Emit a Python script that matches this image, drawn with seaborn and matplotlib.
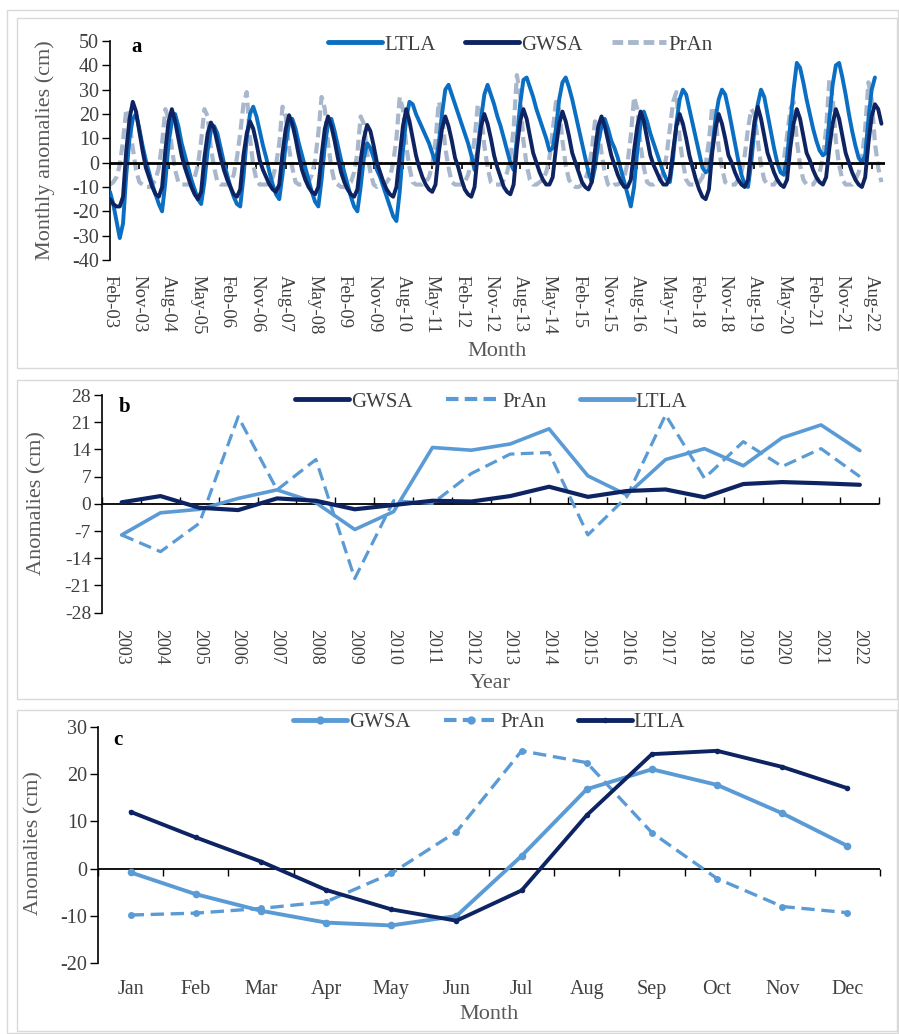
import numpy as np
import pandas as pd
import matplotlib
matplotlib.use("Agg")
import matplotlib.pyplot as plt
import seaborn as sns
from matplotlib.lines import Line2D
from matplotlib.patches import Rectangle

# ---------------- Panel a : monthly anomalies, Feb-2003 .. Nov-2022 ----------------
gwsa_m = [
    -15, -17, -18, -18, -14, 5, 18, 25, 21, 13, 5,              # 2003 Feb-Dec
    -2, -6, -10, -13, -14, -10, 5, 17, 22, 17, 10, 3,            # 2004
    -2, -6, -10, -13, -15, -12, 2, 12, 16.5, 14, 8, 2,           # 2005
    -3, -7, -10, -13, -14, -11, 3, 12, 17, 14, 8, 1,             # 2006
    -3, -6, -9, -11, -12, -9, 4, 14, 19.5, 16, 10, 3,            # 2007
    -3, -7, -10, -12, -13, -10, 3, 14, 19, 15, 9, 2,             # 2008
    -4, -8, -11, -13, -14, -11, 1, 10, 15.5, 13, 7, 0,           # 2009
    -4, -8, -11, -13, -14, -10, 3, 15, 22, 17, 10, 3,            # 2010
    -2, -6, -9, -11, -12, -9, 4, 14, 19, 15, 9, 2,               # 2011
    -2, -7, -11, -13, -14, -10, 4, 15, 20, 16, 10, 3,            # 2012
    -2, -6, -10, -12, -13, -9, 6, 17, 22, 18, 11, 4,             # 2013
    0, -4, -7, -9, -9, -6, 6, 16, 21, 17, 11, 4,                 # 2014
    0, -4, -8, -10, -11, -8, 5, 15, 19, 15, 9, 3,                # 2015
    -1, -5, -8, -10, -10, -7, 5, 15, 21, 17, 10, 3,              # 2016
    -1, -4, -7, -9, -9, -6, 5, 15, 20, 16, 10, 3,                # 2017
    -2, -7, -11, -14, -15, -11, 4, 14, 20, 16, 10, 3,            # 2018
    0, -4, -7, -9, -10, -7, 6, 17, 23, 18, 11, 4,                # 2019
    0, -4, -7, -9, -10, -7, 6, 16, 22, 18, 11, 4,                # 2020
    1, -3, -6, -8, -9, -6, 6, 16, 22, 18, 11, 4,                 # 2021
    0, -4, -7, -9, -10, -6, 8, 19, 24, 22, 16,                   # 2022 Jan-Nov
]
ltla_m = [
    -12, -17, -24, -31, -25, -5, 10, 18, 20, 14, 7,              # 2003
    1, -4, -9, -13, -17, -20, -8, 8, 17, 20, 15, 8,              # 2004
    3, -2, -7, -11, -15, -17, -8, 5, 13, 15, 12, 6,              # 2005
    0, -5, -10, -14, -17, -18, -6, 10, 20, 23, 19, 13,           # 2006
    7, 2, -4, -9, -13, -15, -5, 8, 16, 18, 14, 8,                # 2007
    3, -2, -7, -12, -16, -18, -7, 7, 16, 18, 13, 7,              # 2008
    1, -4, -9, -14, -18, -20, -10, 2, 8, 6, 2, -3,               # 2009
    -6, -10, -14, -18, -22, -24, -12, 5, 18, 25, 24, 20,         # 2010
    17, 14, 11, 8, 4, 0, 8, 20, 30, 32, 28, 24,                  # 2011
    20, 16, 12, 8, 3, -3, 6, 18, 28, 32, 28, 24,                 # 2012
    19, 15, 10, 5, 0, -3, 10, 24, 34, 35, 31, 27,                # 2013
    22, 18, 14, 10, 5, 6, 14, 26, 33, 35, 31, 26,                # 2014
    20, 14, 8, 2, -4, -8, -2, 8, 15, 18, 14, 9,                  # 2015
    6, 2, -3, -8, -13, -18, -10, 5, 16, 21, 17, 12,              # 2016
    8, 4, 0, -4, -7, -8, 2, 16, 26, 30, 28, 22,                  # 2017
    16, 10, 4, -2, -4, -3, 6, 18, 26, 30, 28, 22,                # 2018
    15, 8, 1, -5, -9, -10, 0, 14, 24, 30, 27, 20,                # 2019
    13, 6, 0, -4, -5, 2, 16, 30, 41, 39, 33, 26,                 # 2020
    20, 14, 9, 5, 3, 4, 18, 32, 40, 41, 35, 28,                  # 2021
    20, 13, 7, 2, 0, 3, 18, 30, 35, np.nan, np.nan,              # 2022
]
pran_m = [
    -9, -8, -6, -1, 9, 22, 17, 6, -3, -8, -9,                    # 2003
    -10, -10, -9, -7, -2, 8, 22, 18, 6, -3, -8, -9,              # 2004
    -9, -9, -8, -6, -1, 9, 22, 19, 6, -2, -8, -9,                # 2005
    -9, -9, -8, -5, 2, 12, 24, 29, 10, -1, -7, -9,               # 2006
    -9, -9, -8, -6, -1, 8, 23, 19, 6, -2, -8, -9,                # 2007
    -9, -9, -8, -5, 1, 12, 27, 22, 8, -2, -8, -9,                # 2008
    -10, -10, -9, -8, -4, 4, 19, 16, 4, -4, -9, -10,             # 2009
    -9, -9, -8, -6, 0, 10, 27, 22, 7, -2, -8, -9,                # 2010
    -9, -9, -8, -6, -1, 9, 25, 20, 6, -2, -8, -9,                # 2011
    -9, -9, -8, -5, 0, 10, 24, 20, 7, -2, -8, -9,                # 2012
    -9, -9, -7, -4, 2, 14, 36, 28, 9, -1, -7, -9,                # 2013
    -9, -8, -7, -4, 2, 13, 25, 22, 9, -1, -7, -9,                # 2014
    -10, -10, -9, -7, -3, 5, 17, 15, 4, -4, -9, -10,             # 2015
    -9, -9, -8, -6, 0, 11, 27, 22, 7, -2, -8, -9,                # 2016
    -9, -8, -7, -4, 3, 14, 25, 29, 10, 0, -7, -9,                # 2017
    -9, -9, -8, -6, -1, 9, 23, 19, 6, -2, -8, -9,                # 2018
    -9, -9, -7, -4, 3, 14, 22, 20, 9, -1, -7, -9,                # 2019
    -9, -9, -7, -5, 1, 11, 22, 25, 9, -1, -7, -9,                # 2020
    -9, -9, -7, -4, 2, 14, 34, 27, 9, -1, -7, -9,                # 2021
    -9, -9, -7, -4, 2, 14, 33, 26, 8, -2, -8,                    # 2022
]
a_tick_labels = ["Feb-03", "Nov-03", "Aug-04", "May-05", "Feb-06", "Nov-06", "Aug-07",
                 "May-08", "Feb-09", "Nov-09", "Aug-10", "May-11", "Feb-12", "Nov-12",
                 "Aug-13", "May-14", "Feb-15", "Nov-15", "Aug-16", "May-17", "Feb-18",
                 "Nov-18", "Aug-19", "May-20", "Feb-21", "Nov-21", "Aug-22"]
a_tick_step = 9

# ---------------- Panel b : annual anomalies ----------------
years = [str(y) for y in range(2003, 2023)]
gwsa_y = [0.4, 2.0, -1.0, -1.6, 1.4, 0.8, -1.4, -0.3, 0.8, 0.6,
          2.0, 4.4, 1.8, 3.3, 3.7, 1.7, 5.1, 5.6, 5.3, 4.9]
pran_y = [-8.0, -12.3, -5.0, 22.4, 3.6, 11.4, -19.2, 0.8, 0.1, 7.8,
          12.8, 13.2, -8.0, 1.8, 22.9, 6.6, 16.0, 9.6, 14.2, 7.0]
ltla_y = [-8.0, -2.3, -1.4, 1.4, 3.6, 0.3, -6.6, -2.0, 14.5, 13.8,
          15.4, 19.3, 7.2, 2.3, 11.4, 14.2, 9.8, 17.0, 20.3, 13.7]

# ---------------- Panel c : monthly climatology ----------------
months = ["Jan", "Feb", "Mar", "Apr", "May", "Jun", "Jul", "Aug", "Sep", "Oct", "Nov", "Dec"]
gwsa_c = [-0.8, -5.4, -8.9, -11.4, -12.0, -10.0, 2.7, 16.8, 21.0, 17.7, 11.7, 4.8]
pran_c = [-9.8, -9.4, -8.4, -7.0, -1.0, 7.8, 24.9, 22.4, 7.6, -2.1, -8.0, -9.3]
ltla_c = [12.0, 6.6, 1.5, -4.5, -8.6, -11.0, -4.6, 11.3, 24.2, 24.9, 21.5, 17.0]

# ---------------- style ----------------
sns.set_style("white")
plt.rcParams["font.family"] = ["Liberation Serif", "DejaVu Serif"]
plt.rcParams["axes.unicode_minus"] = False

NAVY = "#0E2462"
BLUE_A = "#0A6EC2"
GREY_A = "#A9B7CC"
BLUE_L = "#5B9BD5"
TXT = "#404040"
LAB = "#595959"
BOX = "#D9D9D9"

W, H = 899, 1034
fig = plt.figure(figsize=(W / 100, H / 100), dpi=100)


def fx(px):
    return px / W


def fy(py):
    return 1 - py / H


# frames
fig.patches.append(Rectangle((fx(7), fy(1033)), fx(891), 1023 / H, transform=fig.transFigure,
                             fill=False, ec=BOX, lw=1.0))
for top, bot in [(18, 368), (380, 699), (710, 1031)]:
    fig.patches.append(Rectangle((fx(17), fy(bot)), fx(880), (bot - top) / H, transform=fig.transFigure,
                                 fill=False, ec=BOX, lw=1.0))


def style_axes(ax, tsize):
    for s in ["top", "right", "bottom"]:
        ax.spines[s].set_visible(False)
    ax.spines["left"].set_color("#000000")
    ax.spines["left"].set_linewidth(1.2)
    ax.tick_params(axis="y", direction="out", length=6, width=1.0, color="#000000",
                   labelsize=tsize, labelcolor=TXT, pad=2, left=True)
    ax.tick_params(axis="x", length=0, labelcolor=TXT)
    ax.grid(False)


# ======================= Panel a =======================
axa = fig.add_axes([fx(110), fy(260), fx(774.7), 219 / H])
idx = np.arange(len(gwsa_m))
dfa = pd.DataFrame({"idx": idx, "LTLA": ltla_m, "GWSA": gwsa_m, "PrAn": pran_m})
sns.lineplot(data=dfa, x="idx", y="PrAn", ax=axa, color=GREY_A, lw=3.0,
             linestyle=(0, (2.6, 1.3)), zorder=2)
sns.lineplot(data=dfa, x="idx", y="LTLA", ax=axa, color=BLUE_A, lw=2.8, zorder=3)
sns.lineplot(data=dfa, x="idx", y="GWSA", ax=axa, color=NAVY, lw=2.8, zorder=4)
axa.set_xlim(0, len(gwsa_m))
axa.set_ylim(-40, 50)
axa.set_yticks(np.arange(-40, 51, 10))
axa.set_xticks(np.arange(0, len(gwsa_m), a_tick_step)[:len(a_tick_labels)])
axa.set_xticklabels(a_tick_labels, rotation=270, ha="center", va="top")
style_axes(axa, 14.5)
axa.tick_params(axis="x", pad=11, labelsize=13.5)
axa.axhline(0, color="#000000", lw=2.0, zorder=3.5)
seca = axa.secondary_xaxis(40 / 90)
seca.set_xticks(np.arange(0, len(gwsa_m), a_tick_step))
seca.tick_params(axis="x", direction="out", length=4, width=1.2, color="#000000", labelbottom=False,
                 labeltop=False)
for s in seca.spines.values():
    s.set_visible(False)
axa.set_xlabel("Month", fontsize=16, color=LAB, va="center")
axa.xaxis.set_label_coords(0.5, -0.418)
axa.set_ylabel("Monthly anomalies (cm)", fontsize=16, color=LAB, va="center")
axa.yaxis.set_label_coords(-0.084, 0.5)
axa.text(0.034, 0.972, "a", transform=axa.transAxes, fontsize=15, fontweight="bold",
         color="#000000", ha="center", va="center")
ha = [Line2D([], [], color=BLUE_A, lw=3.5),
      Line2D([], [], color=NAVY, lw=3.5),
      Line2D([], [], color=GREY_A, lw=3.5, linestyle=(0, (2.2, 1.0)))]
axa.legend(ha, ["LTLA", "GWSA", "PrAn"], loc="center", bbox_to_anchor=(fx(520), fy(45)),
           bbox_transform=fig.transFigure, ncol=3, frameon=False, fontsize=15, handlelength=2.6,
           handletextpad=0.1, columnspacing=1.4, labelcolor=TXT)

# ======================= Panel b =======================
axb = fig.add_axes([fx(102.2), fy(612.7), fx(777.1), 217.7 / H])
dfb = pd.DataFrame({"Year": years, "GWSA": gwsa_y, "PrAn": pran_y, "LTLA": ltla_y})
xb = np.arange(len(years))
dfb["pos"] = xb
sns.lineplot(data=dfb, x="pos", y="LTLA", ax=axb, color=BLUE_L, lw=2.6, zorder=3)
sns.lineplot(data=dfb, x="pos", y="PrAn", ax=axb, color=BLUE_L, lw=2.3,
             linestyle=(0, (4, 2)), zorder=2)
sns.lineplot(data=dfb, x="pos", y="GWSA", ax=axb, color=NAVY, lw=3.0, zorder=4)
axb.set_xlim(-0.5, len(years) - 0.5)
axb.set_ylim(-28, 28)
axb.set_yticks(np.arange(-28, 29, 7))
axb.set_xticks(xb)
axb.set_xticklabels(years, rotation=270, ha="center", va="top")
style_axes(axb, 14)
axb.tick_params(axis="x", pad=12, labelsize=13)
axb.axhline(0, color="#000000", lw=1.3, zorder=1)
secb = axb.secondary_xaxis(0.5)
secb.set_xticks(np.arange(-0.5, len(years), 1.0))
secb.tick_params(axis="x", direction="out", length=5, width=1.0, color="#000000", labelbottom=False,
                 labeltop=False)
for s in secb.spines.values():
    s.set_visible(False)
axb.set_xlabel("Year", fontsize=16, color=LAB, va="center")
axb.xaxis.set_label_coords(0.5, -0.325)
axb.set_ylabel("Anomalies (cm)", fontsize=16, color=LAB, va="center")
axb.yaxis.set_label_coords(-0.084, 0.504)
axb.text(0.029, 0.945, "b", transform=axb.transAxes, fontsize=15, fontweight="bold",
         color="#000000", ha="center", va="center")
hb = [Line2D([], [], color=NAVY, lw=3.5),
      Line2D([], [], color=BLUE_L, lw=3.0, linestyle=(0, (3, 1.5))),
      Line2D([], [], color=BLUE_L, lw=3.5)]
axb.legend(hb, ["GWSA", "PrAn", "LTLA"], loc="center", bbox_to_anchor=(fx(491), fy(402)),
           bbox_transform=fig.transFigure, ncol=3, frameon=False, fontsize=15, handlelength=2.6,
           handletextpad=0.1, columnspacing=1.6, labelcolor=TXT)

# ======================= Panel c =======================
axc = fig.add_axes([fx(98.1), fy(963.3), fx(781.9), 236.6 / H])
dfc = pd.DataFrame({"Month": months, "GWSA": gwsa_c, "PrAn": pran_c, "LTLA": ltla_c})
xc = np.arange(len(months))
dfc["pos"] = xc
sns.lineplot(data=dfc, x="pos", y="PrAn", ax=axc, color=BLUE_L, lw=2.4, linestyle=(0, (4, 2)),
             marker="o", markersize=5, markeredgewidth=0, zorder=2)
sns.lineplot(data=dfc, x="pos", y="GWSA", ax=axc, color=BLUE_L, lw=2.8,
             marker="o", markersize=5.5, markeredgewidth=0, zorder=3)
sns.lineplot(data=dfc, x="pos", y="LTLA", ax=axc, color=NAVY, lw=2.8,
             marker="o", markersize=4, markeredgewidth=0, zorder=4)
axc.set_xlim(-0.5, len(months) - 0.5)
axc.set_ylim(-20, 30)
axc.set_yticks(np.arange(-20, 31, 10))
axc.set_xticks(xc)
axc.set_xticklabels(months)
style_axes(axc, 14.5)
axc.tick_params(axis="x", pad=12, labelsize=14.5)
axc.axhline(0, color="#000000", lw=1.3, zorder=1)
secc = axc.secondary_xaxis(20 / 50)
secc.set_xticks(np.arange(-0.5, len(months), 1.0))
secc.tick_params(axis="x", direction="out", length=5, width=1.0, color="#000000", labelbottom=False,
                 labeltop=False)
for s in secc.spines.values():
    s.set_visible(False)
axc.set_xlabel("Month", fontsize=16, color=LAB, va="center")
axc.xaxis.set_label_coords(0.5, -0.2185)
axc.set_ylabel("Anomalies (cm)", fontsize=16, color=LAB, va="center")
axc.yaxis.set_label_coords(-0.082, 0.508)
axc.text(0.025, 0.944, "c", transform=axc.transAxes, fontsize=15, fontweight="bold",
         color="#000000", ha="center", va="center")
hc = [Line2D([], [], color=BLUE_L, lw=3.5, marker="o", markersize=6, markeredgewidth=0),
      Line2D([], [], color=BLUE_L, lw=3.0, linestyle=(0, (3, 1.5)), marker="o", markersize=6,
             markeredgewidth=0),
      Line2D([], [], color=NAVY, lw=3.5, marker="o", markersize=4, markeredgewidth=0)]
axc.legend(hc, ["GWSA", "PrAn", "LTLA"], loc="center", bbox_to_anchor=(fx(489), fy(722)),
           bbox_transform=fig.transFigure, ncol=3, frameon=False, fontsize=15, handlelength=2.6,
           handletextpad=0.1, columnspacing=1.6, labelcolor=TXT)

fig.savefig("out.png", dpi=100)
